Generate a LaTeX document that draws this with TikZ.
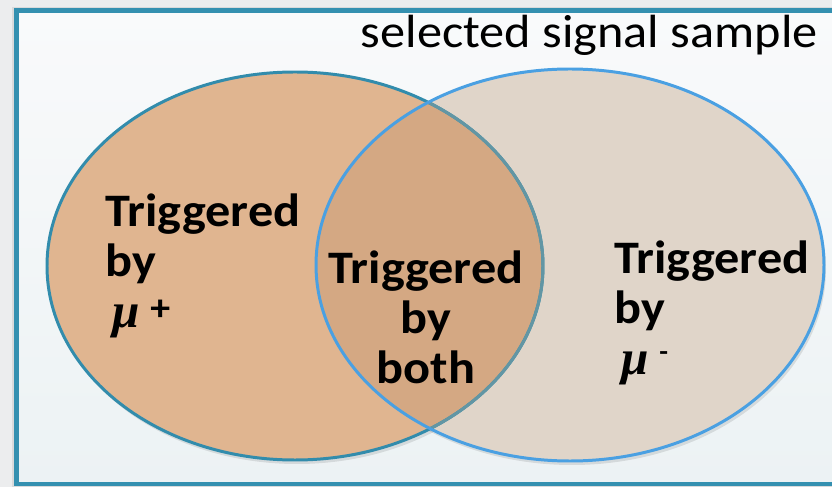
\documentclass[tikz,border=0pt]{standalone}
\usepackage{fontspec}
\setmainfont{Carlito}[FakeStretch=1.08]
\newfontfamily\mufont{Liberation Serif}

\definecolor{pagegray}{RGB}{236,237,238}
\definecolor{framecol}{RGB}{52,144,176}
\definecolor{bgtop}{RGB}{249,250,251}
\definecolor{bgbottom}{RGB}{236,242,244}
\definecolor{plusfill}{RGB}{224,181,144}
\definecolor{minusfill}{RGB}{224,213,201}
\definecolor{bothfill}{RGB}{212,168,131}
\definecolor{plusline}{RGB}{50,140,172}
\definecolor{plusdim}{RGB}{98,150,164}
\definecolor{minusline}{RGB}{74,160,226}

% muon with its charge: #1 charge sign, #2 gap, #3 lift
\newcommand{\muon}[3]{\hspace{4pt}{\mufont\itshape\bfseries\fontsize{28}{28}\selectfont μ}%
  \hspace{#2}\raisebox{#3}{#1}}

\begin{document}
\begin{tikzpicture}[x=0.02cm,y=0.02cm,
    venntext/.style={font=\bfseries\fontsize{26.5}{28.5}\selectfont,inner sep=0pt}]
\useasboundingbox (0,0) rectangle (832,487);
\clip (0,0) rectangle (832,487);

% page, frame and its shadow
\fill [pagegray] (0,0) rectangle (832,487);
\fill [black,opacity=0.08] (12,0) rectangle (850,480);
\shadedraw [draw=framecol,line width=2.8pt,top color=bgtop,bottom color=bgbottom]
    (16.5,3) rectangle (850,476.5);
\node [font=\fontsize{26.5}{30}\selectfont,anchor=base east,inner sep=0pt] (title)
    at (818,439) {selected signal sample};

% the two samples
\fill [black,opacity=0.1] (297,217) ellipse [x radius=248,y radius=194];
\fill [black,opacity=0.1] (572,218) ellipse [x radius=254,y radius=196];
\fill [plusfill] (295,221) ellipse [x radius=248,y radius=194];
\fill [minusfill] (570,222) ellipse [x radius=254,y radius=196];
\begin{scope}
  \clip (295,221) ellipse [x radius=248,y radius=194];
  \fill [bothfill] (570,222) ellipse [x radius=254,y radius=196];
\end{scope}
\draw [plusline,line width=1.7pt] (295,221) ellipse [x radius=248,y radius=194];
\begin{scope}
  \clip (570,222) ellipse [x radius=254,y radius=196];
  \draw [plusdim,line width=1.7pt] (295,221) ellipse [x radius=248,y radius=194];
\end{scope}
\draw [minusline,line width=1.7pt] (570,222) ellipse [x radius=254,y radius=196];

% labels
\node [venntext,align=left,anchor=north west] (plus) at (105,294)
    {Triggered\\by\\[1pt]\muon{\fontsize{21}{21}\selectfont +}{6pt}{4pt}};
\node [venntext,align=center,anchor=north] (both) at (426,237)
    {Triggered\\by\\both};
\node [venntext,align=left,anchor=north west] (minus) at (614,247)
    {Triggered\\by\\[1pt]\muon{\fontsize{15}{15}\selectfont -}{6pt}{8pt}};
\end{tikzpicture}
\end{document}
